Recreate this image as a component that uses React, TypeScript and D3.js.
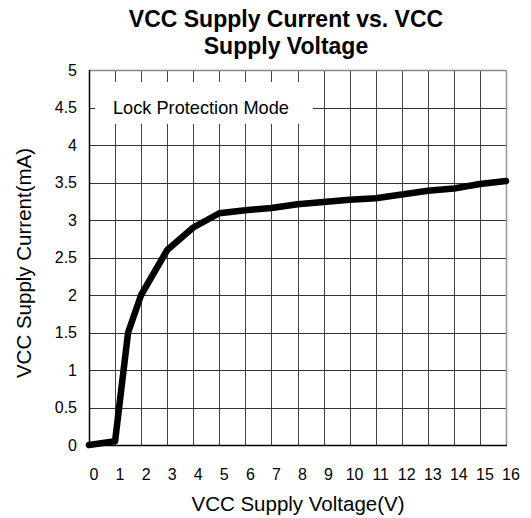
import React from "react";
import * as d3 from "d3";

// chart data
const voltage = [0, 1, 1.5, 2, 3, 4, 5, 6, 7, 8, 9, 10, 11, 12, 13, 14, 15, 16];
const current = [0, 0.05, 1.5, 2.0, 2.6, 2.9, 3.09, 3.13, 3.16, 3.21, 3.24, 3.27, 3.29, 3.34, 3.39, 3.42, 3.48, 3.52];
const xTicks = d3.range(0, 17, 1);
const yTicks = [0, 0.5, 1, 1.5, 2, 2.5, 3, 3.5, 4, 4.5, 5];
const titleLines = ["VCC Supply Current vs. VCC", "Supply Voltage"];
const xTitle = "VCC Supply Voltage(V)";
const yTitle = "VCC Supply Current(mA)";
const noteText = "Lock Protection Mode";

const W = 531;
const H = 518;
const font = "'Liberation Sans', Arial, sans-serif";

const App = () => {
  const x = d3.scaleLinear().domain([0, 16]).range([89, 506]);
  const y = d3.scaleLinear().domain([0, 5]).range([445, 70]);

  const line = d3
    .line<number>()
    .x((d, i) => x(voltage[i]))
    .y((d) => y(d));

  return (
    <svg width={W} height={H} style={{ position: "absolute", left: 0, top: 0 }}>
      <rect width={W} height={H} fill="#fff" />

      {/* title */}
      {titleLines.map((t, i) => (
        <text
          key={t}
          x={286}
          y={27 + i * 27}
          textAnchor="middle"
          fontFamily={font}
          fontWeight="bold"
          fontSize={23}
          fill="#000"
        >
          {t}
        </text>
      ))}

      {/* grid */}
      {xTicks.map((t) => (
        <line
          key={"vx" + t}
          x1={Math.round(x(t)) + 0.5}
          x2={Math.round(x(t)) + 0.5}
          y1={y(5)}
          y2={y(0)}
          stroke="#444"
          strokeWidth={1}
        />
      ))}
      {yTicks.map((t) => (
        <line
          key={"hy" + t}
          x1={x(0)}
          x2={x(16)}
          y1={Math.round(y(t)) + 0.5}
          y2={Math.round(y(t)) + 0.5}
          stroke="#333"
          strokeWidth={1}
        />
      ))}
      {/* outer frame: top/right lighter */}
      <line x1={x(0)} x2={x(16)} y1={y(5) + 0.5} y2={y(5) + 0.5} stroke="#888" strokeWidth={1.5} />
      <line x1={x(16) + 0.5} x2={x(16) + 0.5} y1={y(5)} y2={y(0)} stroke="#999" strokeWidth={1.5} />
      <line x1={x(0) + 0.5} x2={x(0) + 0.5} y1={y(5)} y2={y(0) + 1} stroke="#000" strokeWidth={1.5} />
      <line x1={x(0)} x2={x(16) + 1} y1={y(0) + 0.5} y2={y(0) + 0.5} stroke="#000" strokeWidth={1.5} />

      {/* annotation box */}
      <rect x={95} y={82} width={218} height={42} fill="#fff" />
      <text x={113} y={y(4.5) + 6} fontFamily={font} fontSize={18.2} fill="#000">
        {noteText}
      </text>

      {/* data line */}
      <path
        d={line(current) || ""}
        fill="none"
        stroke="#000"
        strokeWidth={6.5}
        strokeLinejoin="round"
        strokeLinecap="round"
      />

      {/* y tick labels */}
      {yTicks.map((t) => (
        <text
          key={"yl" + t}
          x={77}
          y={y(t)}
          dy="0.35em"
          textAnchor="end"
          fontFamily={font}
          fontSize={16}
          fill="#000"
        >
          {t}
        </text>
      ))}
      {/* x tick labels */}
      {xTicks.map((t) => (
        <text
          key={"xl" + t}
          x={x(t) + 5}
          y={480}
          textAnchor="middle"
          fontFamily={font}
          fontSize={16}
          fill="#000"
        >
          {t}
        </text>
      ))}

      {/* axis titles */}
      <text x={298} y={511} textAnchor="middle" fontFamily={font} fontSize={20.5} fill="#000">
        {xTitle}
      </text>
      <text
        transform={`translate(31, ${263}) rotate(-90)`}
        textAnchor="middle"
        fontFamily={font}
        fontSize={20.5}
        fill="#000"
      >
        {yTitle}
      </text>
    </svg>
  );
};

export default App;
